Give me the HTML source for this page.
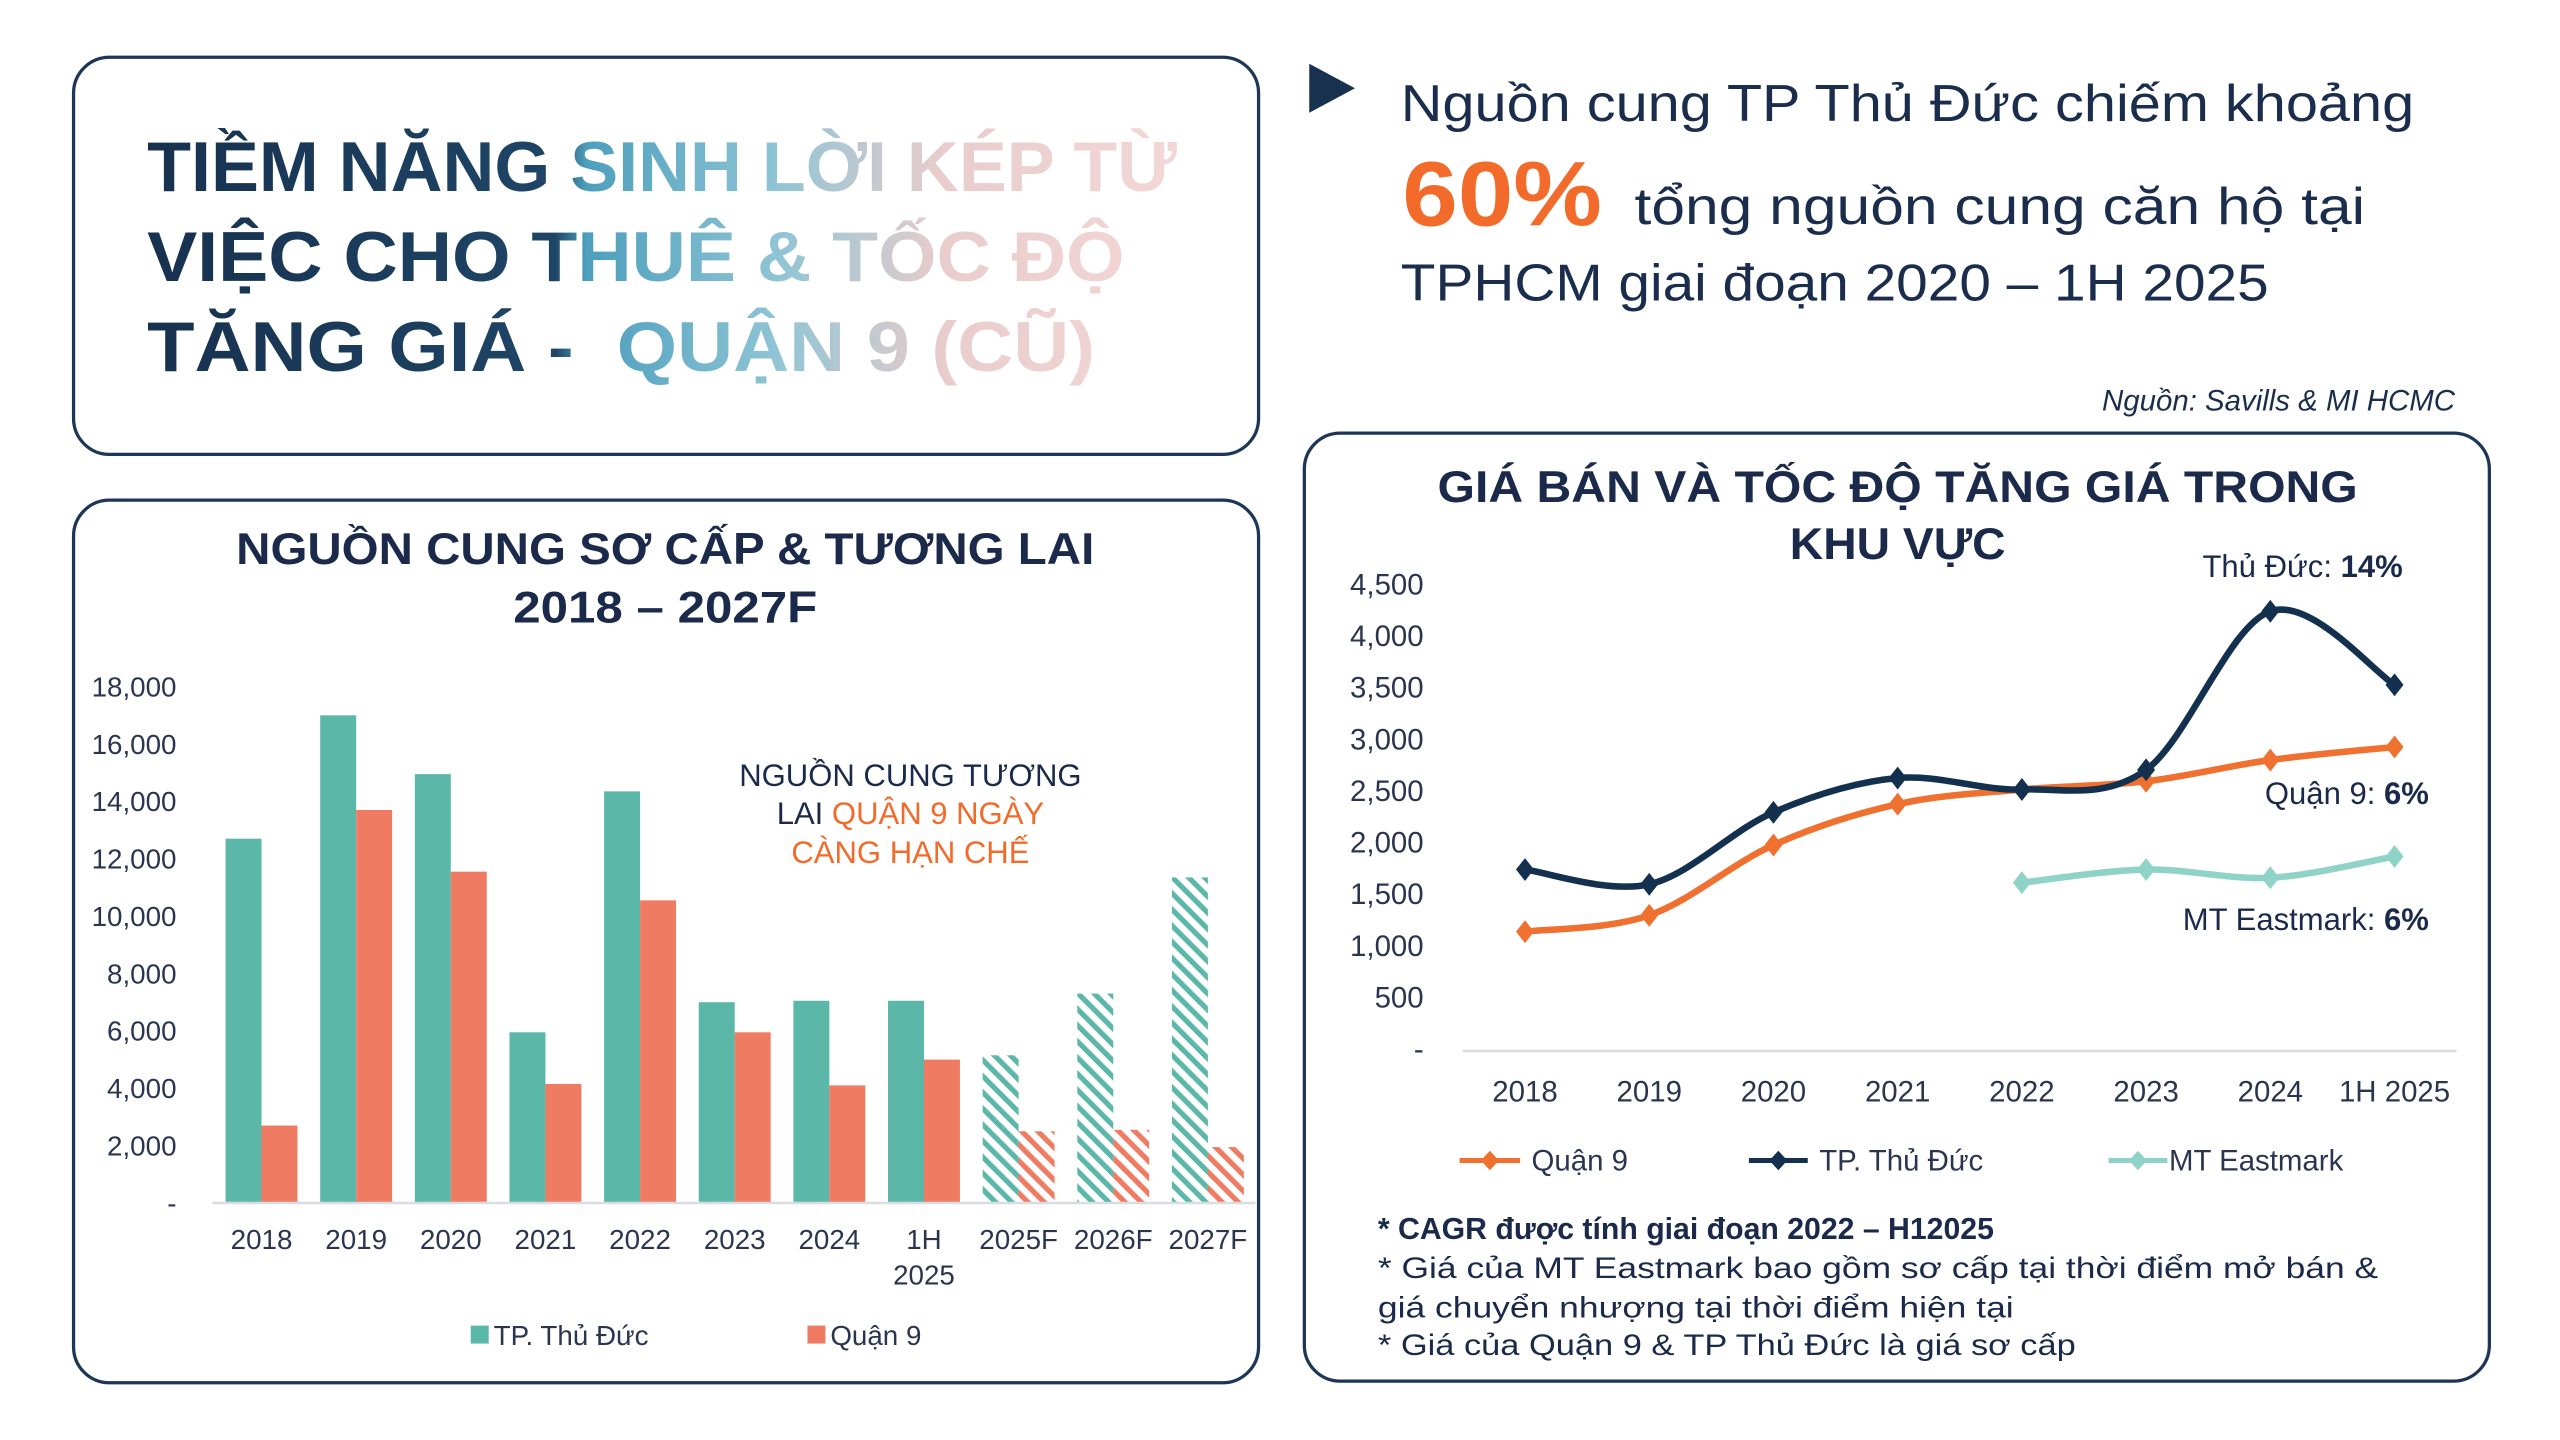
<!DOCTYPE html>
<html><head><meta charset="utf-8">
<style>
html,body{margin:0;padding:0;background:#fff;width:2560px;height:1440px;overflow:hidden}
svg{display:block}
text{font-family:"Liberation Sans","DejaVu Sans",sans-serif}
</style></head>
<body>
<svg id="s" width="2560" height="1440" viewBox="0 0 1566 881" preserveAspectRatio="xMinYMin meet" xmlns="http://www.w3.org/2000/svg">
<defs>
<linearGradient id="tg" gradientUnits="userSpaceOnUse" x1="90" y1="0" x2="730" y2="0">
<stop offset="0" stop-color="#17314f"/>
<stop offset="0.39" stop-color="#1f4566"/>
<stop offset="0.42" stop-color="#4d9fbd"/>
<stop offset="0.60" stop-color="#8ec4d4"/>
<stop offset="0.76" stop-color="#e9cccc"/>
<stop offset="1" stop-color="#f4d8d8"/>
</linearGradient>
<pattern id="ht" patternUnits="userSpaceOnUse" width="7" height="7" patternTransform="rotate(-45)">
<rect width="7" height="7" fill="#fff"/><rect width="3.2" height="7" fill="#5bb8a8"/>
</pattern>
<pattern id="ho" patternUnits="userSpaceOnUse" width="7" height="7" patternTransform="rotate(-45)">
<rect width="7" height="7" fill="#fff"/><rect width="3.2" height="7" fill="#f07b63"/>
</pattern>
</defs>

<rect x="45" y="35" width="725" height="243" rx="22" fill="none" stroke="#1d3557" stroke-width="2"/>
<rect x="45" y="306" width="725" height="540" rx="22" fill="none" stroke="#1d3557" stroke-width="2"/>
<rect x="798" y="265" width="725" height="580" rx="22" fill="none" stroke="#1d3557" stroke-width="2"/>

<g font-weight="bold" font-size="43" fill="url(#tg)">
<text x="90" y="117" textLength="630" lengthAdjust="spacingAndGlyphs">TIỀM NĂNG SINH LỜI KÉP TỪ</text>
<text x="90" y="172" textLength="598" lengthAdjust="spacingAndGlyphs">VIỆC CHO THUÊ &amp; TỐC ĐỘ</text>
<text x="90" y="227" textLength="580" lengthAdjust="spacingAndGlyphs" xml:space="preserve">TĂNG GIÁ -  QUẬN 9 (CŨ)</text>
</g>

<polygon points="801,39 829,54 801,69" fill="#17314f"/>
<g fill="#1b2d4d" font-size="32">
<text x="857" y="74" textLength="620" lengthAdjust="spacingAndGlyphs">Nguồn cung TP Thủ Đức chiếm khoảng</text>
<text x="1000" y="137" textLength="447" lengthAdjust="spacingAndGlyphs">tổng nguồn cung căn hộ tại</text>
<text x="857" y="184" textLength="531" lengthAdjust="spacingAndGlyphs">TPHCM giai đoạn 2020 – 1H 2025</text>
</g>
<text x="858" y="138" font-size="56" font-weight="bold" fill="#f26b2a" textLength="122" lengthAdjust="spacingAndGlyphs">60%</text>
<text x="1502" y="251" font-size="18" font-style="italic" fill="#1b2d4d" text-anchor="end">Nguồn: Savills &amp; MI HCMC</text>

<g font-weight="bold" font-size="27" fill="#1b2a4a" text-anchor="middle">
<text x="407" y="345" textLength="525" lengthAdjust="spacingAndGlyphs">NGUỒN CUNG SƠ CẤP &amp; TƯƠNG LAI</text>
<text x="407" y="381" textLength="186" lengthAdjust="spacingAndGlyphs">2018 – 2027F</text>
</g>
<g id="lc"></g>
<line x1="130" y1="736" x2="768" y2="736" stroke="#d9dde3" stroke-width="1.5"/>
<g font-size="19" text-anchor="middle">
<text x="557" y="481" fill="#1b2a4a">NGUỒN CUNG TƯƠNG</text>
<text x="557" y="504"><tspan fill="#1b2a4a">LAI </tspan><tspan fill="#f26b2a">QUẬN 9 NGÀY</tspan></text>
<text x="557" y="528" fill="#f26b2a">CÀNG HẠN CHẾ</text>
</g>
<rect x="288" y="811" width="11" height="11" fill="#5bb8a8"/>
<text x="302" y="823" font-size="17" fill="#2b3550">TP. Thủ Đức</text>
<rect x="494" y="811" width="11" height="11" fill="#f07b63"/>
<text x="508" y="823" font-size="17" fill="#2b3550">Quận 9</text>

<g font-weight="bold" font-size="27" fill="#1b2a4a" text-anchor="middle">
<text x="1161" y="307" textLength="563" lengthAdjust="spacingAndGlyphs">GIÁ BÁN VÀ TỐC ĐỘ TĂNG GIÁ TRONG</text>
<text x="1161" y="342" textLength="132" lengthAdjust="spacingAndGlyphs">KHU VỰC</text>
</g>
<line x1="895" y1="643" x2="1503" y2="643" stroke="#d9dde3" stroke-width="1.5"/>
<g id="rc"></g>
<g font-size="19" fill="#1b2a4a" text-anchor="end">
<text x="1470" y="353">Thủ Đức: <tspan font-weight="bold">14%</tspan></text>
<text x="1486" y="492">Quận 9: <tspan font-weight="bold">6%</tspan></text>
<text x="1486" y="569">MT Eastmark: <tspan font-weight="bold">6%</tspan></text>
</g>
<g font-size="18" fill="#2b3550">
<line x1="893" y1="710" x2="930" y2="710" stroke="#f07030" stroke-width="3"/><polygon points="911.5,704 917,710 911.5,716 906,710" fill="#f07030"/>
<text x="937" y="716">Quận 9</text>
<line x1="1070" y1="710" x2="1106" y2="710" stroke="#13304f" stroke-width="3"/><polygon points="1088,704 1093.5,710 1088,716 1082.5,710" fill="#13304f"/>
<text x="1113" y="716">TP. Thủ Đức</text>
<line x1="1290" y1="710" x2="1326" y2="710" stroke="#8fd3c8" stroke-width="3"/><polygon points="1308,704 1313.5,710 1308,716 1302.5,710" fill="#8fd3c8"/>
<text x="1327" y="716">MT Eastmark</text>
</g>
<g font-size="18" fill="#1b2a4a">
<text x="843" y="758" font-weight="bold" font-size="18.5">* CAGR được tính giai đoạn 2022 – H12025</text>
<text x="843" y="782" textLength="612" lengthAdjust="spacingAndGlyphs">* Giá của MT Eastmark bao gồm sơ cấp tại thời điểm mở bán &amp;</text>
<text x="843" y="806" textLength="389" lengthAdjust="spacingAndGlyphs">giá chuyển nhượng tại thời điểm hiện tại</text>
<text x="843" y="829" textLength="427" lengthAdjust="spacingAndGlyphs">* Giá của Quận 9 &amp; TP Thủ Đức là giá sơ cấp</text>
</g>
</svg>
<script>
var NS="http://www.w3.org/2000/svg";
function el(p,t,a,txt){var e=document.createElementNS(NS,t);for(var k in a)e.setAttribute(k,a[k]);if(txt!=null)e.textContent=txt;p.appendChild(e);return e;}
var lc=document.getElementById("lc");
var yl=["18,000","16,000","14,000","12,000","10,000","8,000","6,000","4,000","2,000","-"];
for(var i=0;i<10;i++){el(lc,"text",{x:108,y:736-(9-i)*35.1+6,"font-size":17,fill:"#2b3550","text-anchor":"end"},yl[i]);}
var cats=["2018","2019","2020","2021","2022","2023","2024","1H","2025F","2026F","2027F"];
var T=[12700,17000,14950,5950,14350,7000,7050,7050,5150,7300,11350];
var O=[2700,13700,11550,4150,10550,5950,4100,5000,2500,2550,1950];
for(var i=0;i<11;i++){var c=160+i*57.9;var f=i>=8;
var ht=T[i]*0.01755,ho=O[i]*0.01755;
el(lc,"rect",{x:c-22,y:736-ht,width:22,height:ht,fill:f?"url(#ht)":"#5bb8a8"});
el(lc,"rect",{x:c,y:736-ho,width:22,height:ho,fill:f?"url(#ho)":"#f07b63"});
el(lc,"text",{x:c,y:764,"font-size":17,fill:"#2b3550","text-anchor":"middle"},cats[i]);
if(i==7)el(lc,"text",{x:c,y:786,"font-size":17,fill:"#2b3550","text-anchor":"middle"},"2025");
}
var rc=document.getElementById("rc");
var ryl=["4,500","4,000","3,500","3,000","2,500","2,000","1,500","1,000","500","-"];
for(var i=0;i<10;i++){el(rc,"text",{x:871,y:642-(9-i)*31.6+6,"font-size":18,fill:"#2b3550","text-anchor":"end"},ryl[i]);}
var rx=["2018","2019","2020","2021","2022","2023","2024","1H 2025"];
for(var i=0;i<8;i++)el(rc,"text",{x:933+i*76,y:674,"font-size":18,fill:"#2b3550","text-anchor":"middle"},rx[i]);
function path(pts){var d="M"+pts[0][0]+","+pts[0][1];
for(var i=0;i<pts.length-1;i++){var p0=pts[i-1]||pts[i],p1=pts[i],p2=pts[i+1],p3=pts[i+2]||p2;
var c1=[p1[0]+(p2[0]-p0[0])/6,p1[1]+(p2[1]-p0[1])/6],c2=[p2[0]-(p3[0]-p1[0])/6,p2[1]-(p3[1]-p1[1])/6];
d+=" C"+c1+" "+c2+" "+p2;}return d;}
function series(ys,start,col,w){var pts=[];for(var i=0;i<ys.length;i++)pts.push([933+(start+i)*76,ys[i]]);
el(rc,"path",{d:path(pts),fill:"none",stroke:col,"stroke-width":w,"stroke-linecap":"round"});
pts.forEach(function(p){el(rc,"polygon",{points:(p[0])+","+(p[1]-7)+" "+(p[0]+5.5)+","+p[1]+" "+p[0]+","+(p[1]+7)+" "+(p[0]-5.5)+","+p[1],fill:col});});}
series([540,532,537,524],4,"#8fd3c8",4);
series([570,560,517,492,483,478,465,457],0,"#f07030",4);
series([532,541,497,476,483,471,374,419],0,"#13304f",4);
</script>
</body></html>
